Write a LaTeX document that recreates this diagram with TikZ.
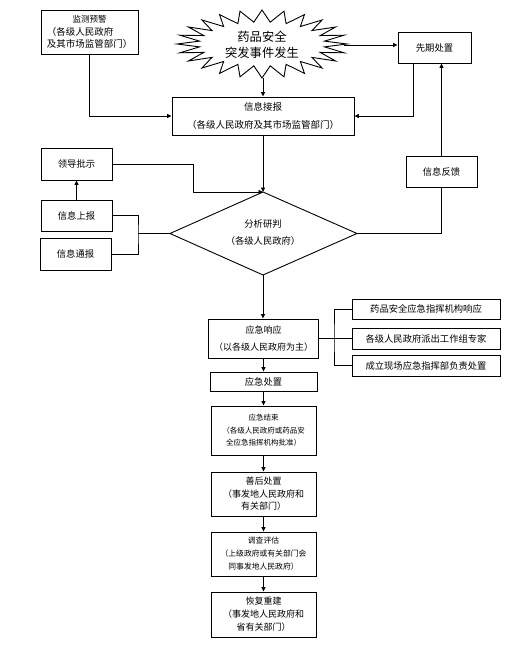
\documentclass[tikz,border=0pt]{standalone}
\usepackage{fontspec}
\newfontfamily\cjk{Noto Sans CJK SC}
\usetikzlibrary{arrows.meta,calc}
\begin{document}
\begin{tikzpicture}[x=1pt,y=-1pt,
  box/.style={draw,line width=0.9pt,inner sep=0pt,align=center,font=\cjk\fontsize{9.3}{12}\selectfont},
  arr/.style={line width=0.9pt,-{Triangle[length=4.5pt,width=4pt]}},
  ln/.style={line width=0.9pt}]
\useasboundingbox[fill=white] (0,0) rectangle (521,650);

% starburst
\begin{scope}[shift={(262,44)}]
\draw[ln,line join=miter,miter limit=20] (0:85 and 34)
  \foreach \i in {0,...,23} { -- (\i*15+7.5:63 and 22) -- (\i*15+15:85 and 34) } -- cycle;
\end{scope}
\node[font=\cjk\fontsize{12.3}{16}\selectfont,align=center,inner sep=0pt] (burst) at (262,45) {药品安全\\突发事件发生};
\coordinate (bS) at (263,78);
\coordinate (bE) at (344,45);

% top boxes
\node[box,minimum width=97pt,minimum height=44pt,font=\cjk\fontsize{9.5}{11.5}\selectfont] (jc) at (89.5,32)
  {{\fontsize{8.5}{11}\selectfont 监测预警}\\[1.5pt]\makebox[9em][l]{（各级人民政府}\\\makebox[9em][l]{及其市场监管部门）}};
\node[box,minimum width=73pt,minimum height=31pt] (xq) at (434.5,47.5) {先期处置};
\node[box,minimum width=182pt,minimum height=38pt,font=\cjk\fontsize{9.5}{12}\selectfont] (xx) at (263,116)
  {信息接报\\[6pt]（各级人民政府及其市场监管部门）};

% left boxes
\node[box,minimum width=71pt,minimum height=32pt] (ld) at (76.5,164) {领导批示};
\node[box,minimum width=71pt,minimum height=31pt] (sb) at (76.5,215.5) {信息上报};
\node[box,minimum width=71pt,minimum height=32pt] (tb) at (75.5,254) {信息通报};
\node[box,minimum width=71pt,minimum height=31pt] (fk) at (441.5,171.5) {信息反馈};

% diamond
\coordinate (dT) at (263,192);
\coordinate (dB) at (263,275);
\coordinate (dL) at (170,233.5);
\coordinate (dR) at (357,233.5);
\draw[ln] (dT) -- (dR) -- (dB) -- (dL) -- cycle;
\node[align=center,inner sep=0pt,font=\cjk\fontsize{9.3}{12}\selectfont] (dm) at (263,233) {分析研判\\[5pt]（各级人民政府）};

% response
\node[box,minimum width=110pt,minimum height=39pt,font=\cjk\fontsize{9}{12}\selectfont] (yx) at (263.5,338.5)
  {应急响应\\[5pt]（以各级人民政府为主）};
\node[box,minimum width=148pt,minimum height=20pt] (r1) at (426,309) {药品安全应急指挥机构响应};
\node[box,minimum width=148pt,minimum height=21pt] (r2) at (426,338.5) {各级人民政府派出工作组专家};
\node[box,minimum width=148pt,minimum height=21pt] (r3) at (426,365.5) {成立现场应急指挥部负责处置};
\coordinate (br) at (334,338.5);

% lower stack
\node[box,minimum width=107pt,minimum height=19pt] (cz) at (263.5,381.5) {应急处置};
\node[box,minimum width=105pt,minimum height=49pt,font=\cjk\fontsize{7.5}{12.5}\selectfont] (js) at (263.5,430.5)
  {应急结束\\（各级人民政府或药品安\\全应急指挥机构批准）};
\node[box,minimum width=105pt,minimum height=44pt,font=\cjk\fontsize{9}{12}\selectfont] (sh) at (263.5,494)
  {善后处置\\[1pt]（事发地人民政府和\\有关部门）};
\node[box,minimum width=105pt,minimum height=44pt,font=\cjk\fontsize{7.8}{13}\selectfont] (dc) at (263.5,554)
  {调查评估\\（上级政府或有关部门会\\同事发地人民政府）};
\node[box,minimum width=105pt,minimum height=45pt,font=\cjk\fontsize{9}{13}\selectfont] (hf) at (263.5,614.5)
  {恢复重建\\（事发地人民政府和\\省有关部门）};

% connectors
\draw[arr] (bS) -- (xx.north);
\draw[arr] (bE) -- (bE -| xq.west);
\draw[arr] ([xshift=-21.5pt]xq.south) |- (xx.east);
\draw[arr] (jc.south) |- (xx.west);
\draw[arr] (fk.north) -- (fk.north |- xq.south);
\draw[arr] (xx.south) -- (dT);
\coordinate (ldk) at (193,192);
\draw[arr] (ld.east) -| (ldk) -- (dT);
\draw[arr] (sb.north) -- (ld.south);
\coordinate (jn) at (138,233.5);
\draw[ln] (sb.east) -| (jn) |- (tb.east);
\draw[ln] (jn) -- (dL);
\draw[ln] (fk.south) |- (dR);
\draw[arr] (dB) -- (dB |- yx.north);
\draw[ln] (yx.east) -- (r2.west);
\draw[ln] (r1.west) -| (br) |- (r3.west);
\draw[arr] (yx.south -| cz.north) -- (cz.north);
\draw[arr] (cz.south) -- (js.north);
\draw[arr] (js.south) -- (sh.north);
\draw[arr] (sh.south) -- (dc.north);
\draw[arr] (dc.south) -- (hf.north);
\end{tikzpicture}
\end{document}
